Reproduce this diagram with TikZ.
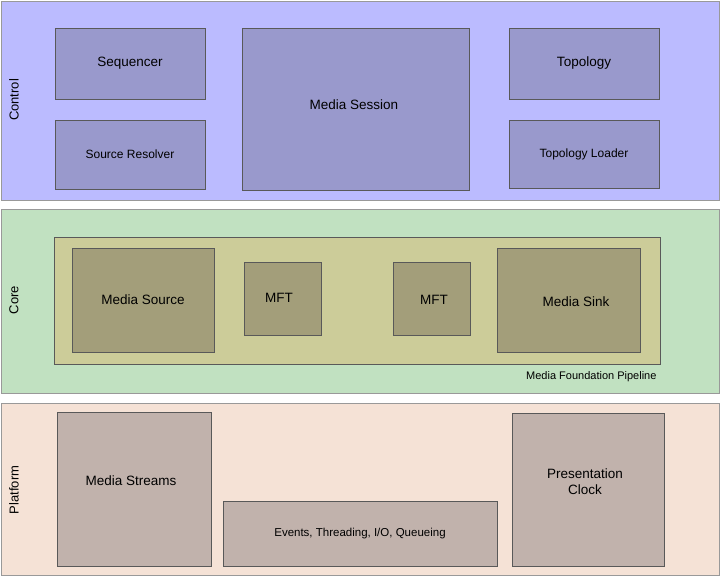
\documentclass[tikz,border=0pt]{standalone}
\usepackage{fontspec}
\setmainfont{Liberation Sans}
\usetikzlibrary{positioning}
\definecolor{ctlband}{RGB}{187,187,255}
\definecolor{ctlbox}{RGB}{153,153,204}
\definecolor{coreband}{RGB}{193,225,193}
\definecolor{pipe}{RGB}{204,204,153}
\definecolor{corebox}{RGB}{163,158,122}
\definecolor{platband}{RGB}{245,226,214}
\definecolor{platbox}{RGB}{193,178,172}
\tikzset{
  band/.style={draw=gray!80,line width=0.6pt},
  blk/.style={draw=gray!70!black,line width=0.5pt},
  side/.style={rotate=90,font=\fontsize{13}{15}\selectfont},
  lbl/.style={font=\fontsize{13.5}{16}\selectfont,align=center},
  small/.style={font=\fontsize{11}{13}\selectfont}
}
\begin{document}
\begin{tikzpicture}[x=1pt,y=-1pt]
  \useasboundingbox (0,0) rectangle (720,576);
  % bands
  \draw[band,fill=ctlband] (1,1) rectangle (719,200);
  \draw[band,fill=coreband] (1,209) rectangle (719,393);
  \draw[band,fill=platband] (1,403) rectangle (719,575);
  \node[side] (control) at (14,100) {Control};
  \node[side] (core) at (14,300) {Core};
  \node[side] (platform) at (14,490) {Platform};
  % control
  \draw[blk,fill=ctlbox] (55,28) rectangle (205,99) node[midway,lbl] (seq) {Sequencer};
  \draw[blk,fill=ctlbox] (55,120) rectangle (205,189) node[midway,small] (resolver) {\fontsize{12}{14}\selectfont Source Resolver};
  \draw[blk,fill=ctlbox] (242,28) rectangle (469,190);
  \node[lbl] (session) at (354,105) {Media Session};
  \draw[blk,fill=ctlbox] (509,28) rectangle (659,99) node[midway,lbl] (topo) {Topology};
  \draw[blk,fill=ctlbox] (509,120) rectangle (659,188) node[midway] (loader) {\fontsize{12}{14}\selectfont Topology Loader};
  % core
  \draw[blk,fill=pipe] (54,237) rectangle (660,364);
  \node[small,anchor=east] (pipeline) at (660,377) {Media Foundation Pipeline};
  \draw[blk,fill=corebox] (72,248) rectangle (214,352) node[midway,lbl] (source) {Media Source};
  \draw[blk,fill=corebox] (244,262) rectangle (321,335);
  \node[lbl] (mfta) at (279,298) {MFT};
  \draw[blk,fill=corebox] (393,262) rectangle (470,335);
  \node[lbl] (mftb) at (434,300) {MFT};
  \draw[blk,fill=corebox] (497,248) rectangle (640,352);
  \node[lbl] (sink) at (576,302) {Media Sink};
  % platform
  \draw[blk,fill=platbox] (57,412) rectangle (211,566);
  \node[lbl] (streams) at (131,481) {Media Streams};
  \draw[blk,fill=platbox] (223,501) rectangle (497,566) node[midway] (events) {\fontsize{11.5}{14}\selectfont Events, Threading, I/O, Queueing};
  \draw[blk,fill=platbox] (512,413) rectangle (664,566);
  \node[lbl] (clock) at (585,482) {Presentation\\Clock};
\end{tikzpicture}
\end{document}
